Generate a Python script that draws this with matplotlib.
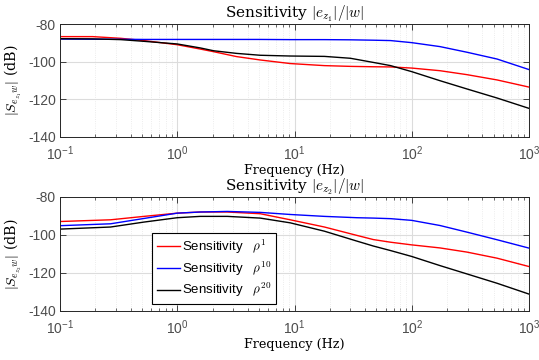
import numpy as np
import matplotlib
matplotlib.use("Agg")
import matplotlib.pyplot as plt
from matplotlib.ticker import LogLocator, NullFormatter

plt.rcParams['mathtext.fontset'] = 'cm'
plt.rcParams['mathtext.rm'] = 'Liberation Sans'
plt.rcParams['mathtext.sf'] = 'Liberation Sans'
plt.rcParams['mathtext.it'] = 'Liberation Sans:italic'

# Top panel |e_z1|/|w|
top_freq = [0.1, 0.19, 0.33, 0.52, 1.0, 1.57, 2.04, 3.2, 5.1, 9.2, 18, 30, 47, 66, 100, 174, 296, 534, 1000]
top_rho1 = [-86.7, -86.7, -87.6, -88.8, -91.0, -93.3, -94.7, -97.3, -99.1, -101.0, -102.1, -102.5, -102.7, -102.8, -103.4, -104.8, -106.9, -109.7, -113.5]
top_rho10 = [-88.0, -88.1, -88.1, -88.2, -88.2, -88.2, -88.2, -88.2, -88.2, -88.3, -88.3, -88.4, -88.6, -88.8, -89.9, -92.0, -95.0, -98.6, -104.2]
top_rho20 = [-87.8, -87.9, -88.3, -89.2, -90.6, -92.7, -94.2, -95.6, -96.6, -97.0, -97.2, -98.2, -100.4, -102.1, -105.3, -110.1, -114.5, -119.3, -124.8]

# Bottom panel |e_z2|/|w|
bot_freq = [0.1, 0.27, 0.52, 1.0, 1.57, 2.67, 5.1, 9.2, 18, 34, 47, 66, 100, 174, 296, 534, 1000]
bot_rho1 = [-92.9, -92.0, -90.2, -88.5, -87.9, -87.9, -88.8, -92.0, -95.8, -100.2, -102.4, -103.8, -105.2, -106.8, -109.0, -112.2, -116.6]
bot_rho10 = [-95.1, -94.1, -91.3, -88.5, -87.9, -87.6, -88.1, -89.2, -90.2, -90.9, -91.1, -91.4, -92.3, -95.0, -98.5, -102.5, -106.9]
bot_rho20 = [-96.9, -95.8, -93.2, -90.9, -90.2, -90.2, -91.1, -93.6, -98.0, -103.2, -105.8, -108.2, -111.3, -116.1, -120.5, -125.4, -131.1]

xticks = [0.1, 1, 10, 100, 1000]
xticklabels = ['$\\mathregular{10^{-1}}$', '$\\mathregular{10^{0}}$', '$\\mathregular{10^{1}}$', '$\\mathregular{10^{2}}$', '$\\mathregular{10^{3}}$']
yticks = [-140, -120, -100, -80]
yticklabels = ['-140', '-120', '-100', '-80']

legend_labels = ['Sensitivity   $\\rho^{1}$', 'Sensitivity   $\\rho^{10}$', 'Sensitivity   $\\rho^{20}$']
colors = ['#ff0000', '#0000ff', '#000000']

fig = plt.figure(figsize=(5.39, 3.6), dpi=100)
ax1 = fig.add_axes([60/539, 1-137/360, 469/539, 113/360])
ax2 = fig.add_axes([60/539, 1-311/360, 469/539, 114/360])

tick_color = '#4d4d4d'
edge_color = '#262626'

def style(ax, title, ylabel):
    ax.set_xscale('log')
    ax.set_xlim(0.1, 1000)
    ax.set_ylim(-140, -80)
    ax.set_xticks(xticks)
    ax.set_xticklabels(xticklabels)
    ax.xaxis.set_minor_locator(LogLocator(base=10, subs=np.arange(2, 10), numticks=20))
    ax.xaxis.set_minor_formatter(NullFormatter())
    ax.set_yticks(yticks)
    ax.set_yticklabels(yticklabels)
    ax.tick_params(axis='both', which='both', direction='in', top=True, right=True,
                   colors=edge_color, labelcolor=tick_color, labelsize=10)
    ax.tick_params(axis='x', which='major', pad=5)
    ax.tick_params(axis='y', which='major', pad=3)
    ax.tick_params(which='major', length=4, width=0.6)
    ax.tick_params(which='minor', length=2, width=0.5)
    ax.grid(True, which='major', color='#dcdcdc', linewidth=0.8)
    ax.grid(True, which='minor', color='#e6e6e6', linewidth=0.6, linestyle=':')
    ax.set_axisbelow(True)
    for s in ax.spines.values():
        s.set_color(edge_color)
        s.set_linewidth(0.7)
    ax.set_title(title, fontsize=11, family='serif', pad=4)
    ax.set_ylabel(ylabel, fontsize=10.2, family='serif', labelpad=3)
    ax.set_xlabel('Frequency (Hz)', fontsize=9.2, family='serif', labelpad=1)
    for lab in ax.get_yticklabels():
        lab.set_family('Liberation Sans')
    for lab in ax.get_xticklabels():
        lab.set_math_fontfamily('custom')
        lab.set_family('Liberation Sans')

for ax, fr, series, title, ylabel in [
    (ax1, top_freq, [top_rho1, top_rho10, top_rho20], 'Sensitivity $|e_{z_1}|/|w|$', '$|S_{e_{z_1}w}|$ (dB)'),
    (ax2, bot_freq, [bot_rho1, bot_rho10, bot_rho20], 'Sensitivity $|e_{z_2}|/|w|$', '$|S_{e_{z_2}w}|$ (dB)'),
]:
    for vals, c, lab in zip(series, colors, legend_labels):
        ax.plot(fr, vals, color=c, linewidth=1.0, label=lab)
    style(ax, title, ylabel)

leg = ax2.legend(loc='upper left', bbox_to_anchor=((152-60)/469, (311-233)/114),
                 frameon=True, fancybox=False, edgecolor='#000000',
                 prop={'family': 'Liberation Sans', 'size': 9.5},
                 handlelength=1.75, handletextpad=0.2, borderpad=0.35, labelspacing=0.25,
                 borderaxespad=0)
leg.get_frame().set_linewidth(0.8)
leg.get_frame().set_alpha(1)

fig.savefig('out.png', dpi=100)
